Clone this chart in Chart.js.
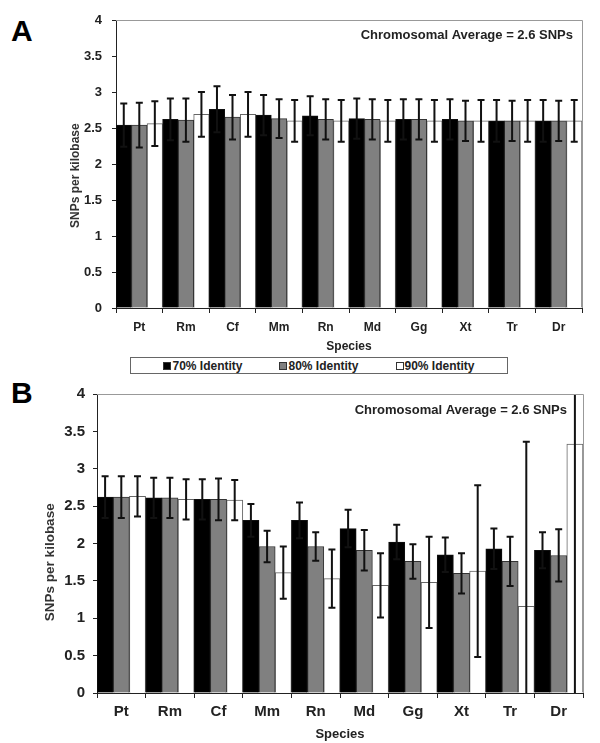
<!DOCTYPE html>
<html>
<head>
<meta charset="utf-8">
<script src="https://cdn.jsdelivr.net/npm/chart.js@4.4.1/dist/chart.umd.min.js"></script>
<style>
  body { margin: 0; background: #fff; font-family: Arial, "Liberation Sans", sans-serif; }
  #page { position: relative; width: 600px; height: 743px; overflow: hidden; }
  .panel-label { position: absolute; left: 11px; font-size: 30px; font-weight: bold; line-height: 1; color: #000; }
  canvas { position: absolute; left: 0; }
  #legend {
    position: absolute; left: 130px; top: 357px; width: 376px; height: 15px;
    border: 1px solid #666; display: flex; justify-content: center; align-items: center;
    gap: 37px; font-size: 12px; font-weight: bold; color: #222;
  }
  #legend span.sw { display: inline-block; width: 6px; height: 6px; border: 1px solid #333; margin-right: 1px; vertical-align: 0px; }
</style>
</head>
<body>
<div id="page">
  <div class="panel-label" style="top:16px">A</div>
  <canvas id="chartA" width="600" height="357" style="top:0"></canvas>
  <div id="legend"></div>
  <div class="panel-label" style="top:378px">B</div>
  <canvas id="chartB" width="600" height="368" style="top:375px"></canvas>
</div>
<script>
const species = ['Pt', 'Rm', 'Cf', 'Mm', 'Rn', 'Md', 'Gg', 'Xt', 'Tr', 'Dr'];
const seriesNames = ['70% Identity', '80% Identity', '90% Identity'];
const yTicks = [0, 0.5, 1, 1.5, 2, 2.5, 3, 3.5, 4];
const noteText = 'Chromosomal Average = 2.6 SNPs';

// panel A
const a70 = [2.54, 2.62, 2.76, 2.68, 2.67, 2.63, 2.62, 2.62, 2.60, 2.60];
const a80 = [2.54, 2.61, 2.65, 2.63, 2.62, 2.62, 2.62, 2.60, 2.60, 2.60];
const a90 = [2.56, 2.69, 2.69, 2.60, 2.60, 2.60, 2.60, 2.60, 2.60, 2.60];
const a70Err = [0.30, 0.29, 0.32, 0.28, 0.27, 0.28, 0.28, 0.28, 0.29, 0.29];
const a80Err = [0.31, 0.30, 0.31, 0.27, 0.28, 0.28, 0.28, 0.28, 0.28, 0.28];
const a90Err = [0.31, 0.31, 0.31, 0.29, 0.29, 0.29, 0.29, 0.29, 0.29, 0.29];

// panel B
const b70 = [2.62, 2.61, 2.59, 2.31, 2.31, 2.20, 2.02, 1.85, 1.93, 1.91];
const b80 = [2.62, 2.61, 2.59, 1.96, 1.96, 1.91, 1.76, 1.60, 1.76, 1.84];
const b90 = [2.63, 2.59, 2.58, 1.61, 1.53, 1.44, 1.48, 1.63, 1.16, 3.33];
const b70Err = [0.28, 0.27, 0.27, 0.22, 0.24, 0.25, 0.23, 0.23, 0.27, 0.24];
const b80Err = [0.28, 0.27, 0.28, 0.21, 0.19, 0.27, 0.23, 0.27, 0.33, 0.35];
const b90Err = [0.27, 0.27, 0.27, 0.35, 0.39, 0.43, 0.61, 1.15, 2.20, 3.50];

const fills = ['#000000', '#808080', '#ffffff'];
const edges = ['#111111', '#333333', '#666666'];

Chart.defaults.font.family = 'Arial, "Liberation Sans", sans-serif';
Chart.defaults.color = '#222';

const errorBars = {
    id: 'errorBars',
    afterDatasetsDraw(chart) {
        const { ctx, chartArea, scales: { y } } = chart;
        ctx.save();
        ctx.beginPath();
        ctx.rect(chartArea.left, chartArea.top, chartArea.right - chartArea.left, chartArea.bottom - chartArea.top);
        ctx.clip();
        ctx.strokeStyle = '#111';
        ctx.lineWidth = 2;
        chart.data.datasets.forEach((ds, i) => {
            const meta = chart.getDatasetMeta(i);
            meta.data.forEach((bar, j) => {
                const v = ds.data[j];
                const e = ds.errors[j];
                ctx.beginPath();
                ctx.moveTo(bar.x, y.getPixelForValue(v + e));
                ctx.lineTo(bar.x, y.getPixelForValue(v - e));
                [v + e, v - e].forEach(t => {
                    if (t > y.min && t < y.max) {
                        const py = y.getPixelForValue(t);
                        ctx.moveTo(bar.x - 3.5, py);
                        ctx.lineTo(bar.x + 3.5, py);
                    }
                });
                ctx.stroke();
            });
        });
        ctx.restore();
    }
};

const plotFrame = {
    id: 'plotFrame',
    afterDraw(chart, args, opts) {
        const { ctx, chartArea } = chart;
        ctx.save();
        ctx.strokeStyle = '#999';
        ctx.lineWidth = 1;
        ctx.beginPath();
        ctx.moveTo(chartArea.left, chartArea.top + 0.5);
        ctx.lineTo(chartArea.right + 0.5, chartArea.top + 0.5);
        ctx.lineTo(chartArea.right + 0.5, chartArea.bottom);
        ctx.stroke();
        ctx.fillStyle = '#222';
        ctx.font = 'bold ' + opts.size + 'px Arial, "Liberation Sans", sans-serif';
        ctx.textAlign = 'right';
        ctx.textBaseline = 'middle';
        ctx.fillText(noteText, chartArea.right - opts.right, chartArea.top + opts.down);
        ctx.restore();
    }
};

function makeChart(id, values, errors, s) {
    const ctx = document.getElementById(id).getContext('2d');
    return new Chart(ctx, {
        type: 'bar',
        data: {
            labels: species,
            datasets: seriesNames.map((name, i) => ({
                label: name,
                data: values[i],
                errors: errors[i],
                backgroundColor: fills[i],
                borderColor: edges[i],
                borderWidth: 1,
                categoryPercentage: 1,
                barPercentage: 1
            }))
        },
        options: {
            responsive: false,
            animation: false,
            devicePixelRatio: 1,
            layout: { padding: s.pad },
            plugins: {
                legend: { display: false },
                tooltip: { enabled: false },
                plotFrame: { size: s.noteSize, right: s.noteRight, down: s.noteDown }
            },
            scales: {
                x: {
                    ticks: { padding: s.xPad, color: '#222', font: { size: s.xFont, weight: 'bold' } },
                    grid: { drawOnChartArea: false, tickLength: 5, color: '#222' },
                    border: { color: '#222' },
                    title: {
                        display: true, text: 'Species', color: '#222',
                        font: { size: s.xTitle, weight: 'bold' },
                        padding: { top: 0, bottom: s.xTitlePad }
                    },
                    afterFit: scale => { scale.height = s.xHeight; }
                },
                y: {
                    min: 0,
                    max: 4,
                    afterBuildTicks: scale => { scale.ticks = yTicks.map(v => ({ value: v })); },
                    ticks: { padding: s.yPad, color: '#222', font: { size: s.yFont, weight: 'bold' }, callback: v => String(v) },
                    grid: { drawOnChartArea: false, tickLength: 4, color: '#222' },
                    border: { color: '#222' },
                    title: {
                        display: true, text: 'SNPs per kilobase' + s.titleShift, color: '#333',
                        font: { size: s.yTitle, weight: 'bold' },
                        padding: { top: s.yTitlePad, bottom: 0 }
                    },
                    afterFit: scale => { scale.width = s.yWidth; }
                }
            }
        },
        plugins: [errorBars, plotFrame]
    });
}

const chartA = makeChart('chartA', [a70, a80, a90], [a70Err, a80Err, a90Err], {
    pad: { left: 60, top: 20, right: 18, bottom: 0 },
    xFont: 12, xPad: 7, xTitle: 12, xTitlePad: 3, xHeight: 49,
    yFont: 13, yPad: 10, yTitle: 12, yTitlePad: 8, yWidth: 56,
    titleShift: '       ',
    noteSize: 13, noteRight: 9, noteDown: 15
});

makeChart('chartB', [b70, b80, b90], [b70Err, b80Err, b90Err], {
    pad: { left: 36, top: 19, right: 17, bottom: 0 },
    xFont: 15, xPad: 5, xTitle: 13, xTitlePad: 1, xHeight: 50,
    yFont: 15, yPad: 8, yTitle: 13.5, yTitlePad: 6, yWidth: 61,
    titleShift: '          ',
    noteSize: 13, noteRight: 16, noteDown: 16
});

// legend box shared by both panels
const legend = document.getElementById('legend');
chartA.data.datasets.forEach(ds => {
    const item = document.createElement('div');
    const sw = document.createElement('span');
    sw.className = 'sw';
    sw.style.background = ds.backgroundColor;
    item.appendChild(sw);
    item.appendChild(document.createTextNode(ds.label));
    legend.appendChild(item);
});
</script>
</body>
</html>
